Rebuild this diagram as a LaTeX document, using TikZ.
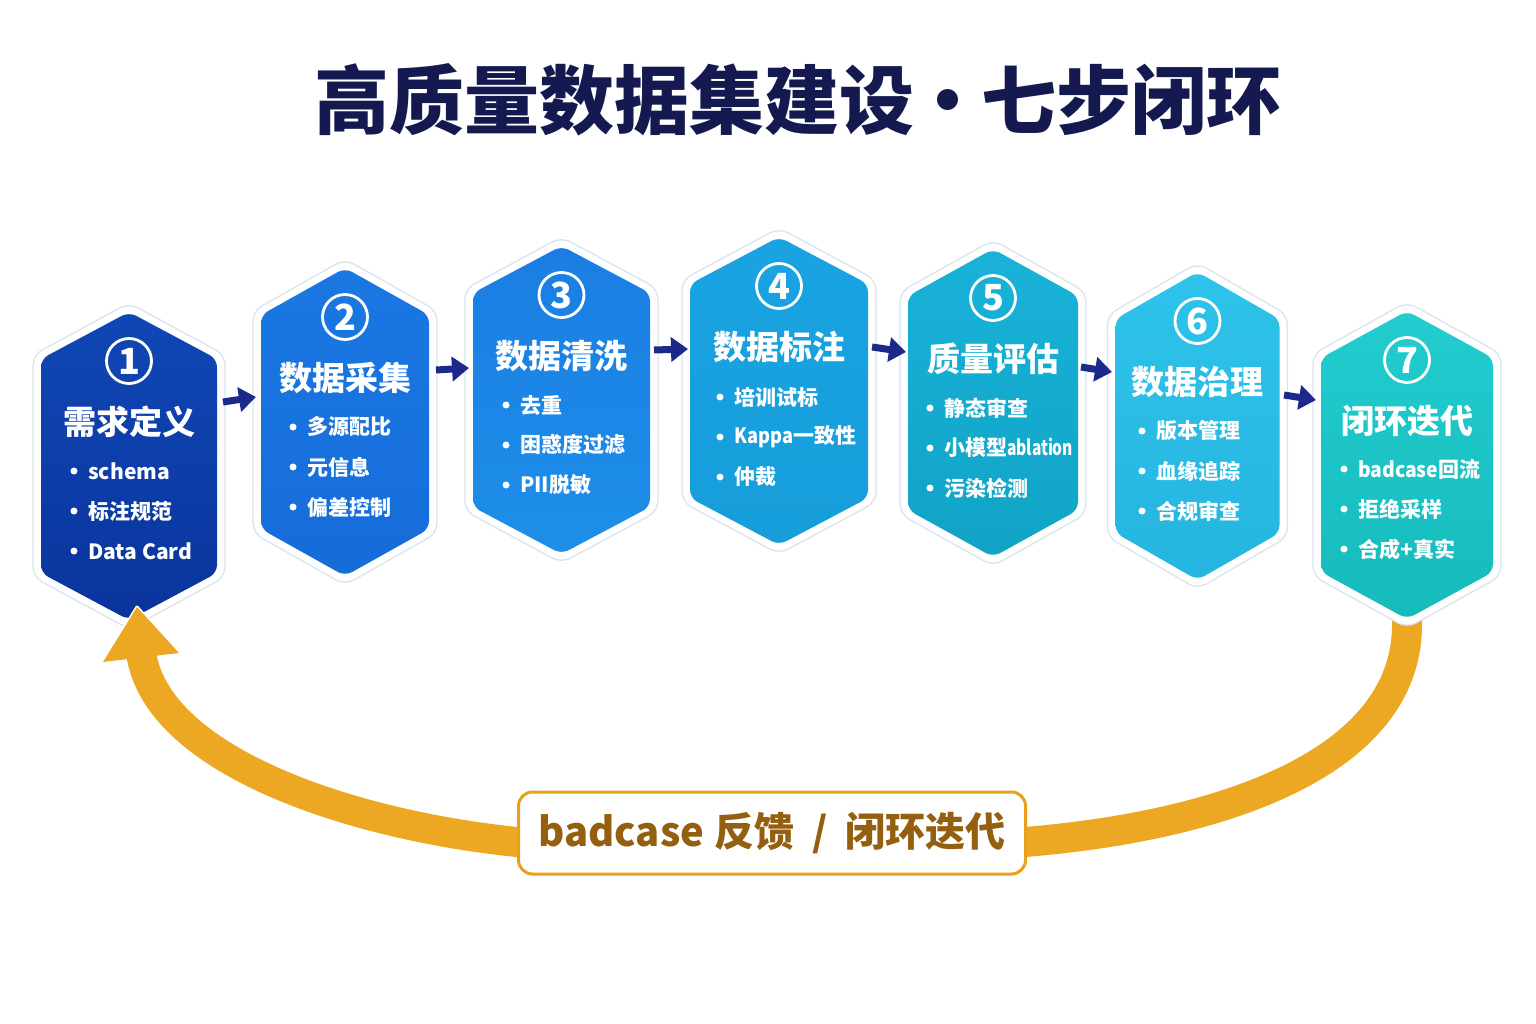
\documentclass[tikz,border=0pt]{standalone}
\usepackage{fontspec}
\setmainfont{Noto Sans CJK SC}
\usetikzlibrary{arrows.meta,calc}
\definecolor{navy}{HTML}{141A4F}
\definecolor{arrnavy}{HTML}{1B2A8A}
\definecolor{gold}{HTML}{EDA823}
\definecolor{goldline}{HTML}{E9A11B}
\definecolor{brownt}{HTML}{94600F}
\definecolor{halo}{HTML}{D8E4F1}
\definecolor{c1a}{HTML}{1047B5}\definecolor{c1b}{HTML}{0A349C}
\definecolor{c2a}{HTML}{1A78E2}\definecolor{c2b}{HTML}{166CD8}
\definecolor{c3a}{HTML}{1B7DE3}\definecolor{c3b}{HTML}{1D8FE8}
\definecolor{c4a}{HTML}{1AA3E2}\definecolor{c4b}{HTML}{169DDA}
\definecolor{c5a}{HTML}{19B2D8}\definecolor{c5b}{HTML}{10A3C6}
\definecolor{c6a}{HTML}{2EC3EA}\definecolor{c6b}{HTML}{25B5E0}
\definecolor{c7a}{HTML}{22CCCF}\definecolor{c7b}{HTML}{16BBBB}
\tikzset{
  halofill/.style={fill=white, draw=halo, line width=1.3pt, rounded corners=10pt},
  numc/.style={circle, draw=white, line width=2.8pt, minimum size=45pt, inner sep=0pt, text=white, font=\bfseries\fontsize{36}{36}\selectfont},
  htitle/.style={text=white, inner sep=0pt, font=\bfseries\fontsize{33}{33}\selectfont},
  item/.style={anchor=west, text=white, inner sep=0pt, font=\bfseries\fontsize{21}{21}\selectfont},
  dot/.style={circle, fill=white, minimum size=7pt, inner sep=0pt},
  steparrow/.style={draw=arrnavy, line width=7pt, -{Triangle[length=17pt,width=24pt]}},
  loopline/.style={draw=gold, line width=30pt},
  lbl/.style={draw=goldline, line width=3pt, fill=white, rounded corners=14pt, minimum width=507pt, minimum height=82pt, text=brownt, font=\bfseries\fontsize{40}{40}\selectfont},
  maintitle/.style={text=navy, inner sep=0pt, font=\bfseries\fontsize{75}{75}\selectfont}
}
\newcommand\hexstep[7]{%
  \filldraw[halofill] ({#2},{#3-9}) -- ({#2+#4+8},{#3+43}) -- ({#2+#4+8},{#3+265}) -- ({#2},{#3+317}) -- ({#2-#4-8},{#3+265}) -- ({#2-#4-8},{#3+43}) -- cycle;
  \shade[rounded corners=8pt, top color=#5a, bottom color=#5b] ({#2},{#3}) -- ({#2+#4},{#3+47}) -- ({#2+#4},{#3+261}) -- ({#2},{#3+308}) -- ({#2-#4},{#3+261}) -- ({#2-#4},{#3+47}) -- cycle;
  \node[numc] (n#1) at ({#2},{#3+49}) {#6};
  \node[htitle] (t#1) at ({#2},{#3+110}) {#7};
}
\newcommand\hexitems[6]{%
  \node[dot] (d#1a) at ({#2-14},{#3+159}) {};
  \node[item] (i#1a) at ({#2},{#3+159}) {#4};
  \node[dot] (d#1b) at ({#2-14},{#3+199}) {};
  \node[item] (i#1b) at ({#2},{#3+199}) {#5};
  \node[dot] (d#1c) at ({#2-14},{#3+239}) {};
  \node[item] (i#1c) at ({#2},{#3+239}) {#6};
}
\begin{document}
\begin{tikzpicture}[x=1pt,y=-1pt]
\useasboundingbox[fill=white] (0,0) rectangle (1536,1024);
\node[maintitle] (title) at (798,100) {高质量数据集建设\hspace{-0.05em}·\hspace{-0.05em}七步闭环};
% label box and loop
\coordinate (h7b) at (1407,600);
\coordinate (h7c) at (1407,627);
\coordinate (lbr) at (1025,842);
\coordinate (lbl) at (517,842);
\coordinate (hb) at (141,652);
\draw[loopline] (h7b) -- (h7c) .. controls (1405,760) and (1230,825) .. (lbr) -- (lbl) .. controls (350,825) and (155,760) .. (hb);
% hexagons
\hexstep{1}{129}{312}{88}{c1}{1}{需求定义}
\hexitems{1}{88}{312}{schema}{标注规范}{Data Card}
\hexstep{2}{345}{268}{84}{c2}{2}{数据采集}
\hexitems{2}{307}{268}{多源配比}{元信息}{偏差控制}
\hexstep{3}{561.5}{246}{88.5}{c3}{3}{数据清洗}
\hexitems{3}{520}{246}{去重}{困惑度过滤}{PII脱敏}
\hexstep{4}{779}{237}{89}{c4}{4}{数据标注}
\hexitems{4}{734}{238}{培训试标}{\scalebox{0.87}[1]{Kappa}一致性}{仲裁}
\hexstep{5}{993}{249}{85}{c5}{5}{质量评估}
\hexitems{5}{944}{249}{静态审查}{小模型\scalebox{0.74}[1]{ablation}}{污染检测}
\hexstep{6}{1197.5}{272}{82}{c6}{6}{数据治理}
\hexitems{6}{1156}{272}{版本管理}{血缘追踪}{合规审查}
\hexstep{7}{1407}{311}{86}{c7}{7}{闭环迭代}
\hexitems{7}{1358}{310}{\scalebox{0.92}[1]{badcase}回流}{拒绝采样}{合成+真实}
% step arrows
\coordinate (a1s) at (223,402); \coordinate (a1e) at (256,397);
\coordinate (a2s) at (436,370); \coordinate (a2e) at (469,368);
\coordinate (a3s) at (654,350); \coordinate (a3e) at (688,349);
\coordinate (a4s) at (872,347); \coordinate (a4e) at (906,352);
\coordinate (a5s) at (1081,367); \coordinate (a5e) at (1112,372);
\coordinate (a6s) at (1284,395); \coordinate (a6e) at (1316,400);
\foreach \k in {1,...,6} {\draw[steparrow] (a\k s) -- (a\k e);}
% loop arrow head
\coordinate (tip) at (137,607);
\coordinate (bl) at (103,662);
\coordinate (br) at (179,653);
\draw[white, line width=3pt, line join=round] (bl) -- (tip) -- (br);
\fill[gold] (tip) -- (bl) -- (br) -- cycle;
% label
\node[lbl] (lb) at (772,833) {badcase\hspace{0.25em}反馈\hspace{0.45em}/\hspace{0.45em}闭环迭代};
\end{tikzpicture}
\end{document}
